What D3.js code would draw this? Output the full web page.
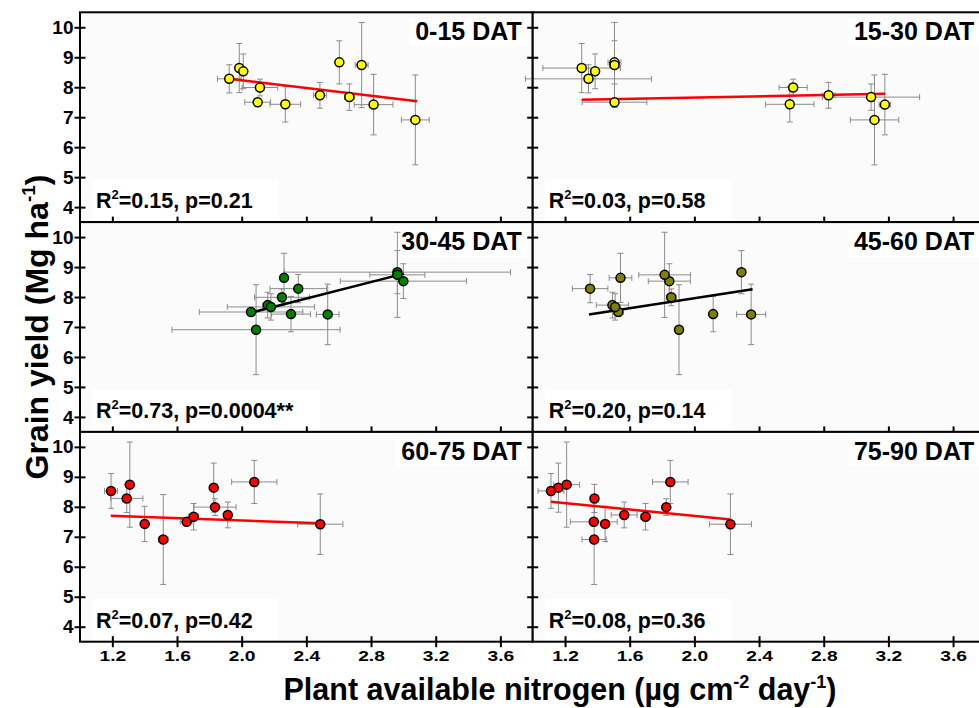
<!DOCTYPE html>
<html>
<head>
<meta charset="utf-8">
<script src="https://cdn.jsdelivr.net/npm/d3@7"></script>
<style>
  body { margin: 0; background: #fff; }
</style>
</head>
<body>
<div id="chart"></div>
<script>
// sampling periods (one panel each)
const periods = ["0-15 DAT", "15-30 DAT", "30-45 DAT", "45-60 DAT", "60-75 DAT", "75-90 DAT"];

// grain yield of the 12 plots (same in every panel), Mg/ha
const yieldMean = [8.28, 8.64, 8.53, 7.99, 7.50, 7.43, 7.73, 8.83, 7.67, 8.74, 7.42, 6.91];
const yieldErr  = [0.47, 0.82, 0.58, 0.28, 0.10, 0.59, 0.43, 0.72, 0.44, 1.42, 1.01, 1.50];

// plant available nitrogen per plot and period
const nitrogen = [
  [1.923, 1.985, 2.010, 2.113, 2.099, 2.270, 2.484, 2.604, 2.666, 2.742, 2.816, 3.074],
  [1.345, 1.303, 1.386, 2.611, 1.506, 2.590, 2.830, 1.506, 3.093, 1.506, 3.178, 3.114],
  [2.350, 2.262, 3.000, 2.249, 2.058, 2.305, 2.161, 2.963, 2.181, 2.963, 2.532, 2.089],
  [1.355, 1.543, 1.845, 1.857, 1.530, 2.116, 1.493, 2.291, 1.510, 1.816, 2.351, 1.905],
  [1.289, 1.827, 1.192, 1.835, 1.660, 1.400, 1.914, 2.078, 1.703, 1.308, 2.486, 1.515],
  [1.382, 1.159, 1.113, 1.826, 1.378, 1.448, 1.566, 1.851, 1.698, 1.210, 2.223, 1.380]
];
const nitrogenErr = [
  [0.073, 0.02, 0.02, 0.11, 0.08, 0.095, 0.04, 0.02, 0.03, 0.04, 0.12, 0.086],
  [0.39, 0.24, 0.02, 0.087, 0.20, 0.15, 0.04, 0.04, 0.30, 0.03, 0.035, 0.15],
  [0.175, 0.02, 0.39, 0.17, 0.32, 0.12, 0.03, 0.70, 0.27, 0.17, 0.07, 0.52],
  [0.11, 0.07, 0.13, 0.03, 0.03, 0.02, 0.10, 0.02, 0.03, 0.16, 0.09, 0.02],
  [0.10, 0.02, 0.04, 0.13, 0.04, 0.02, 0.02, 0.14, 0.03, 0.02, 0.14, 0.03],
  [0.02, 0.02, 0.08, 0.02, 0.145, 0.02, 0.08, 0.11, 0.03, 0.08, 0.13, 0.075]
];

// regression lines: [xStart, yStart, xEnd, yEnd]
const fitLines = [
  [1.923, 8.28, 3.085, 7.53],
  [1.303, 7.58, 3.180, 7.78],
  [2.058, 7.48, 3.004, 8.78],
  [1.348, 7.42, 2.360, 8.26],
  [1.190, 7.70, 2.486, 7.45],
  [1.113, 8.17, 2.223, 7.58]
];
const r2Values = ["0.15", "0.03", "0.73", "0.20", "0.07", "0.08"];
const pValues  = ["0.21", "0.58", "0.0004**", "0.14", "0.42", "0.36"];

const xTicks = [1.2, 1.6, 2.0, 2.4, 2.8, 3.2, 3.6];
const yTicks = [4, 5, 6, 7, 8, 9, 10];

// styles
const pointColors = ["#ffff00", "#ffff00", "#008000", "#808000", "#ff0000", "#ff0000"];
const lineColors  = ["#ff0000", "#ff0000", "#000000", "#000000", "#ff0000", "#ff0000"];
const FONT = "Arial, 'Liberation Sans', Helvetica, sans-serif";

const W = 979, H = 708;
const marginLeft = 80, marginTop = 12.3;
const panelW = 452.7, panelH = 209.8;

const svg = d3.select("#chart").append("svg")
  .attr("width", W)
  .attr("height", H)
  .style("font-family", FONT);

const x = d3.scaleLinear().domain([1.0, 3.8]).range([0, panelW]);
const y = d3.scaleLinear().domain([3.5, 10.5]).range([panelH, 0]);

function styleAxis(g) {
  g.select(".domain").remove();
  g.selectAll("line").attr("stroke", "#000").attr("stroke-width", 2);
  g.attr("font-family", FONT);
}

periods.forEach((period, i) => {
  const col = i % 2, row = Math.floor(i / 2);
  const g = svg.append("g")
    .attr("transform", `translate(${marginLeft + col * panelW},${marginTop + row * panelH})`);

  g.append("rect")
    .attr("width", panelW)
    .attr("height", panelH)
    .attr("fill", "#fbfbfb");

  // panel title with white box
  const title = g.append("text")
    .attr("x", panelW - 11)
    .attr("y", 27.7)
    .attr("text-anchor", "end")
    .attr("font-size", 25)
    .attr("font-weight", "bold")
    .text(period);
  const tb = title.node().getBBox();
  g.insert("rect", "text")
    .attr("x", tb.x - 6).attr("y", tb.y + 2)
    .attr("width", tb.width + 12).attr("height", tb.height)
    .attr("fill", "#fff");

  // R2 / p label
  const stat = g.append("text")
    .attr("x", 16)
    .attr("y", 196)
    .attr("font-size", 21.5)
    .attr("font-weight", "bold");
  stat.append("tspan").text("R");
  stat.append("tspan").attr("font-size", 13).attr("dy", -9).text("2");
  stat.append("tspan").attr("dy", 9).text(`=${r2Values[i]}, p=${pValues[i]}`);
  const sb = stat.node().getBBox();
  g.insert("rect", "text")
    .attr("x", sb.x - 4).attr("y", sb.y - 8)
    .attr("width", sb.width + 30).attr("height", panelH - sb.y + 8)
    .attr("fill", "#fff");

  const pts = yieldMean.map((v, j) => ({
    x: nitrogen[i][j], xe: nitrogenErr[i][j], y: v, ye: yieldErr[j]
  }));

  // error bars
  const eb = g.append("g").attr("stroke", "#8c8c8c").attr("stroke-width", 1);
  const cap = 3;
  eb.selectAll(".ey").data(pts).enter().append("line")
    .attr("x1", d => x(d.x)).attr("x2", d => x(d.x))
    .attr("y1", d => y(d.y - d.ye)).attr("y2", d => y(d.y + d.ye));
  eb.selectAll(".eyc").data(pts.flatMap(d => [[d.x, d.y - d.ye], [d.x, d.y + d.ye]])).enter().append("line")
    .attr("x1", d => x(d[0]) - cap).attr("x2", d => x(d[0]) + cap)
    .attr("y1", d => y(d[1])).attr("y2", d => y(d[1]));
  eb.selectAll(".ex").data(pts).enter().append("line")
    .attr("x1", d => x(d.x - d.xe)).attr("x2", d => x(d.x + d.xe))
    .attr("y1", d => y(d.y)).attr("y2", d => y(d.y));
  eb.selectAll(".exc").data(pts.flatMap(d => [[d.x - d.xe, d.y], [d.x + d.xe, d.y]])).enter().append("line")
    .attr("x1", d => x(d[0])).attr("x2", d => x(d[0]))
    .attr("y1", d => y(d[1]) - cap).attr("y2", d => y(d[1]) + cap);

  // regression line
  const f = fitLines[i];
  g.append("line")
    .attr("x1", x(f[0])).attr("y1", y(f[1]))
    .attr("x2", x(f[2])).attr("y2", y(f[3]))
    .attr("stroke", lineColors[i])
    .attr("stroke-width", 2.5);

  // points
  g.selectAll(".pt").data(pts).enter().append("circle")
    .attr("cx", d => x(d.x))
    .attr("cy", d => y(d.y))
    .attr("r", 4.5)
    .attr("fill", pointColors[i])
    .attr("stroke", "#000")
    .attr("stroke-width", 1.5);

  // ticks crossing the left border (outer with labels on the left column)
  g.append("g")
    .call(d3.axisLeft(y).tickValues(yTicks).tickSize(5.5).tickPadding(1)
      .tickFormat(col === 0 ? d3.format("d") : ""))
    .call(styleAxis)
    .selectAll("text").attr("font-size", 19).attr("font-weight", "bold").attr("fill", "#000");
  g.append("g")
    .call(d3.axisRight(y).tickValues(yTicks).tickSize(5.5).tickFormat(""))
    .call(styleAxis);

  // ticks crossing the bottom border
  g.append("g")
    .attr("transform", `translate(0,${panelH})`)
    .call(d3.axisBottom(x).tickValues(xTicks).tickSize(5.5).tickPadding(3.5)
      .tickFormat(row === 2 ? d3.format(".1f") : ""))
    .call(styleAxis)
    .selectAll("text")
      .attr("font-size", 15).attr("font-weight", "bold").attr("fill", "#000")
      .attr("transform", "scale(1.28,1)");
  g.append("g")
    .attr("transform", `translate(0,${panelH})`)
    .call(d3.axisTop(x).tickValues(xTicks).tickSize(5.5).tickFormat(""))
    .call(styleAxis);

  // frame
  g.append("rect")
    .attr("width", panelW)
    .attr("height", panelH)
    .attr("fill", "none")
    .attr("stroke", "#000")
    .attr("stroke-width", 2);
});

// axis titles
const yTitle = svg.append("text")
  .attr("transform", `translate(48,${marginTop + 1.5 * panelH}) rotate(-90)`)
  .attr("text-anchor", "middle")
  .attr("font-size", 32)
  .attr("font-weight", "bold");
yTitle.append("tspan").text("Grain yield (Mg ha");
yTitle.append("tspan").attr("font-size", 19).attr("dy", -13).text("-1");
yTitle.append("tspan").attr("dy", 13).text(")");

const xTitle = svg.append("text")
  .attr("x", 560)
  .attr("y", 700)
  .attr("text-anchor", "middle")
  .attr("font-size", 30.5)
  .attr("font-weight", "bold");
xTitle.append("tspan").text("Plant available nitrogen (µg cm");
xTitle.append("tspan").attr("font-size", 18).attr("dy", -12).text("-2");
xTitle.append("tspan").attr("dy", 12).text(" day");
xTitle.append("tspan").attr("font-size", 18).attr("dy", -12).text("-1");
xTitle.append("tspan").attr("dy", 12).text(")");
</script>
</body>
</html>
